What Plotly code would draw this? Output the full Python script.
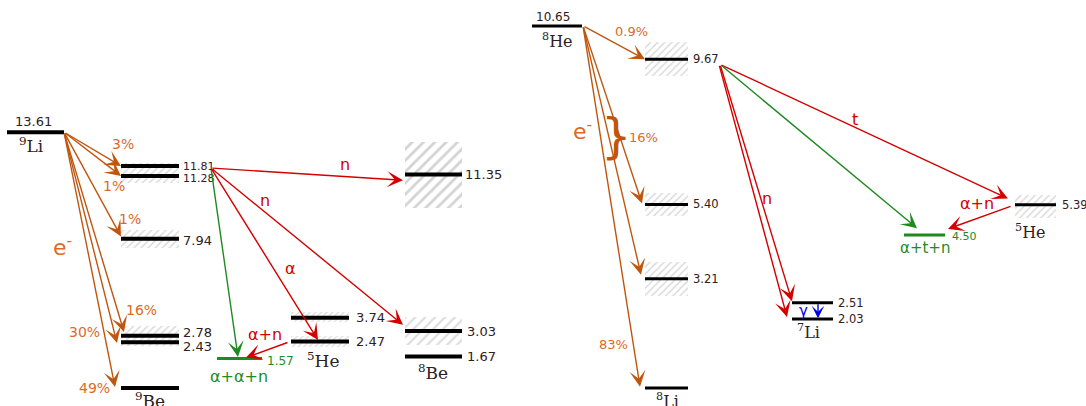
import plotly.graph_objects as go

# ---------------- data : left panel (9Li beta decay) ----------------
li9_E = 13.61
be9_E = [11.81, 11.28, 7.94, 2.78, 2.43, 0.0]
be9_txt = ["11.81", "11.28", "7.94", "2.78", "2.43", ""]
be9_band_lo = [10.92, 7.45, 2.23]
be9_band_hi = [11.97, 8.40, 3.30]
be8_E = [11.35, 3.03, 1.67]
be8_txt = ["11.35", "3.03", "1.67"]
be8_band_lo = [9.60, 2.29]
be8_band_hi = [13.10, 3.78]
he5L_E = [3.74, 2.47]
he5L_txt = ["3.74", "2.47"]
he5L_band_lo = [3.51, 2.18]
he5L_band_hi = [4.04, 2.77]
aan_E = 1.57
li9_branch = ["3%", "1%", "1%", "16%", "30%", "49%"]

# ---------------- data : right panel (8He beta decay) ----------------
he8_E = 10.65
li8_E = [9.67, 5.40, 3.21, 0.0]
li8_txt = ["9.67", "5.40", "3.21", ""]
li8_band_lo = [9.17, 5.05, 2.71]
li8_band_hi = [10.17, 5.75, 3.71]
li7_E = [2.51, 2.03]
li7_txt = ["2.51", "2.03"]
atn_E = 4.50
he5R_E = 5.39
he5R_band_lo = [5.01]
he5R_band_hi = [5.68]
he8_branch = ["0.9%", "16%", "83%"]

# ---------------- layout constants ----------------
W, H = 1086, 406
ZERO_PX = 388.0
SL, SR = 18.8, 34.0          # px per MeV, left / right scale


def EL(py):
    return (ZERO_PX - py) / SL


def ER(py):
    return (ZERO_PX - py) / SR


C_LI9 = (7, 64)
C_BE9 = (121, 179)
C_AAN = (217, 262)
C_HE5L = (291, 349)
C_BE8 = (405, 462)
C_HE8 = (532, 582)
C_LI8 = (645, 688)
C_LI7 = (792, 833)
C_ATN = (904, 945)
C_HE5R = (1015, 1056)

ORANGE_L = "#c0560e"
ORANGE_T = "#dc6a26"
RED = "#d40000"
GREEN = "#1f8a1f"
BLUE = "#0000ee"
DARK = "#2e2020"

fig = go.Figure()


def band(col, lo, hi, yaxis, size=5, solidity=0.3, fg="#b8b8b8"):
    fig.add_trace(go.Bar(
        x=[(col[0] + col[1]) / 2], y=[hi - lo], base=[lo], width=[col[1] - col[0]],
        yaxis=yaxis, hoverinfo="skip",
        marker=dict(color="white", line=dict(width=0),
                    pattern=dict(shape="/", fgcolor=fg, bgcolor="white",
                                 size=size, solidity=solidity))))


def levels(col, Es, yaxis, color="black", width=4):
    xs, ys = [], []
    for e in Es:
        xs += [col[0], col[1], None]
        ys += [e, e, None]
    fig.add_trace(go.Scatter(x=xs, y=ys, mode="lines", yaxis=yaxis, hoverinfo="skip",
                             line=dict(color=color, width=width)))


def label(x, y, s, size=13, color=DARK, yref="y", xanchor="center",
          family="DejaVu Sans"):
    fig.add_annotation(x=x, y=y, xref="x", yref=yref, text=s, showarrow=False,
                       xanchor=xanchor, yanchor="middle",
                       font=dict(family=family, size=size, color=color))


def arrow(x0, y0, x1, y1, color, yref="y", width=1.4, size=1.9):
    fig.add_annotation(x=x1, y=y1, ax=x0, ay=y0, xref="x", yref=yref,
                       axref="x", ayref=yref, text="", showarrow=True,
                       arrowhead=3, arrowsize=size, arrowwidth=width,
                       arrowcolor=color, standoff=0)


# ---------------- hatched widths ----------------
for lo, hi in zip(be9_band_lo, be9_band_hi):
    band(C_BE9, lo, hi, "y")
band(C_BE8, be8_band_lo[0], be8_band_hi[0], "y", size=8, solidity=0.35, fg="#a8a8a8")
band(C_BE8, be8_band_lo[1], be8_band_hi[1], "y", size=7, solidity=0.3)
for lo, hi in zip(he5L_band_lo, he5L_band_hi):
    band(C_HE5L, lo, hi, "y", size=4)
for lo, hi in zip(li8_band_lo, li8_band_hi):
    band(C_LI8, lo, hi, "y2")
band(C_HE5R, he5R_band_lo[0], he5R_band_hi[0], "y2")

# ---------------- levels ----------------
levels(C_LI9, [li9_E], "y")
levels(C_BE9, be9_E, "y")
levels(C_BE8, be8_E, "y")
levels(C_HE5L, he5L_E, "y")
levels(C_AAN, [aan_E], "y", color=GREEN, width=3)
levels(C_HE8, [he8_E], "y2", width=3)
levels(C_LI8, li8_E, "y2", width=3)
levels(C_LI7, li7_E, "y2", width=3)
levels(C_HE5R, [he5R_E], "y2", width=3)
levels(C_ATN, [atn_E], "y2", color=GREEN, width=3)

# ---------------- left labels ----------------
label(33, EL(121), "13.61", 13)
label(31, EL(145), "<sup>9</sup>Li", 17, family="DejaVu Serif")
be9_lab_y = [EL(166.5), EL(178), EL(240.5), EL(332.5), EL(346.5)]
for t, yy, sz in zip(be9_txt[:5], be9_lab_y, [11, 11, 13, 13, 13]):
    label(181, yy, t, sz, xanchor="left")
label(150, EL(400), "<sup>9</sup>Be", 17, family="DejaVu Serif")
label(463, be8_E[0], be8_txt[0], 13, xanchor="left")
label(465, be8_E[1], be8_txt[1], 13, xanchor="left")
label(465, be8_E[2], be8_txt[2], 13, xanchor="left")
label(433, EL(372), "<sup>8</sup>Be", 17, family="DejaVu Serif")
label(354, he5L_E[0], he5L_txt[0], 13, xanchor="left")
label(354, he5L_E[1], he5L_txt[1], 13, xanchor="left")
label(323, EL(360), "<sup>5</sup>He", 17, family="DejaVu Serif")
label(265, EL(361), "1.57", 12, color=GREEN, xanchor="left")
label(239, EL(376), "α+α+n", 16, color=GREEN)

pct_pos = [(123, 144), (114, 186), (130, 219), (141, 310), (84, 332), (94, 388)]
for t, (px, py) in zip(li9_branch, pct_pos):
    label(px, EL(py), t, 14, color=ORANGE_T)
label(62, EL(246), "e<sup>-</sup>", 22, color=ORANGE_T)

label(345, EL(164), "n", 16, color=RED)
label(265, EL(200), "n", 16, color=RED)
label(290, EL(268), "α", 16, color=RED)
label(265, EL(334), "α+n", 16, color=RED)

# ---------------- left arrows ----------------
x_tail = C_LI9[1]
li9_tips = [(121, be9_E[0]), (121, be9_E[1]), (121, be9_E[2] + 0.12),
            (124, be9_E[3] + 0.2), (117, be9_E[4] - 0.04), (115, be9_E[5] + 0.05)]
for tx, ty in li9_tips:
    arrow(x_tail, li9_E, tx, ty, ORANGE_L)

src = (211, be9_E[0] - 0.11)
arrow(src[0], src[1], 403, be8_E[0] - 0.3, RED)
arrow(src[0], src[1], 403, be8_E[1] + 0.33, RED)
arrow(src[0], src[1], 318, he5L_E[1] + 0.08, RED)
arrow(src[0], src[1], 238, aan_E + 0.08, GREEN)
arrow(289, he5L_E[1] - 0.02, 246, aan_E + 0.05, RED)

# ---------------- right labels ----------------
label(553, ER(17), "10.65", 12, yref="y2")
label(557, ER(40), "<sup>8</sup>He", 16, yref="y2", family="DejaVu Serif")
for t, e in zip(li8_txt[:3], li8_E[:3]):
    label(691, e, t, 11.5, yref="y2", xanchor="left")
label(667, ER(400), "<sup>8</sup>Li", 16, yref="y2", family="DejaVu Serif")
for t, e in zip(li7_txt, li7_E):
    label(836, e, t, 11.5, yref="y2", xanchor="left")
label(808, li7_E[1] - 0.36, "<sup>7</sup>Li", 16, yref="y2", family="DejaVu Serif")
label(1060, he5R_E, "5.39", 11.5, yref="y2", xanchor="left")
label(1030, he5R_E - 0.78, "<sup>5</sup>He", 16, yref="y2", family="DejaVu Serif")
label(950, atn_E - 0.05, "4.50", 11, color=GREEN, yref="y2", xanchor="left")
label(925, atn_E - 0.38, "α+t+n", 15, color=GREEN, yref="y2")

label(631, ER(31), he8_branch[0], 13, color=ORANGE_T, yref="y2")
label(627, ER(137), he8_branch[1], 13, color=ORANGE_T, yref="y2", xanchor="left")
label(613, ER(344), he8_branch[2], 13, color=ORANGE_T, yref="y2")
label(582, ER(130), "e<sup>-</sup>", 22, color=ORANGE_T, yref="y2")
label(616, ER(136), "}", 48, color=ORANGE_L, yref="y2")

label(855, ER(119), "t", 16, color=RED, yref="y2")
label(767, ER(198), "n", 16, color=RED, yref="y2")
label(977, he5R_E + 0.05, "α+n", 16, color=RED, yref="y2")
label(803, (li7_E[0] + li7_E[1]) / 2, "γ", 15, color=BLUE, yref="y2")

# ---------------- right arrows ----------------
ht = (C_HE8[1] + 1, he8_E)
arrow(ht[0], ht[1], 645, li8_E[0] + 0.0, ORANGE_L, "y2")
arrow(ht[0], ht[1], 642, li8_E[1] + 0.03, ORANGE_L, "y2")
arrow(ht[0], ht[1], 641, li8_E[2] + 0.12, ORANGE_L, "y2")
arrow(ht[0], ht[1], 640, li8_E[3] + 0.04, ORANGE_L, "y2")

st = (720, li8_E[0] - 0.15)
arrow(st[0], st[1], 1008, he5R_E + 0.18, RED, "y2")
arrow(st[0], st[1], 917, atn_E + 0.2, GREEN, "y2")
arrow(st[0], st[1], 792, li7_E[0] + 0.04, RED, "y2")
arrow(st[0] - 1, st[1], 787, li7_E[1] + 0.06, RED, "y2")
arrow(1012, he5R_E - 0.03, 948, atn_E + 0.18, RED, "y2")
arrow(818, li7_E[0], 818, li7_E[1] + 0.02, BLUE, "y2", size=1.5)

fig.update_layout(
    width=W, height=H, margin=dict(l=0, r=0, t=0, b=0),
    paper_bgcolor="white", plot_bgcolor="white", showlegend=False,
    barmode="overlay", bargap=0,
    xaxis=dict(range=[0, W], visible=False, fixedrange=True),
    yaxis=dict(range=[EL(H), EL(0)], visible=False, fixedrange=True),
    yaxis2=dict(range=[ER(H), ER(0)], visible=False, fixedrange=True,
                overlaying="y", anchor="x"),
)

fig.write_html(
    "out.html",
    config={"displayModeBar": False},
    post_script="document.body.style.margin='0';document.body.style.overflow='hidden';",
)
